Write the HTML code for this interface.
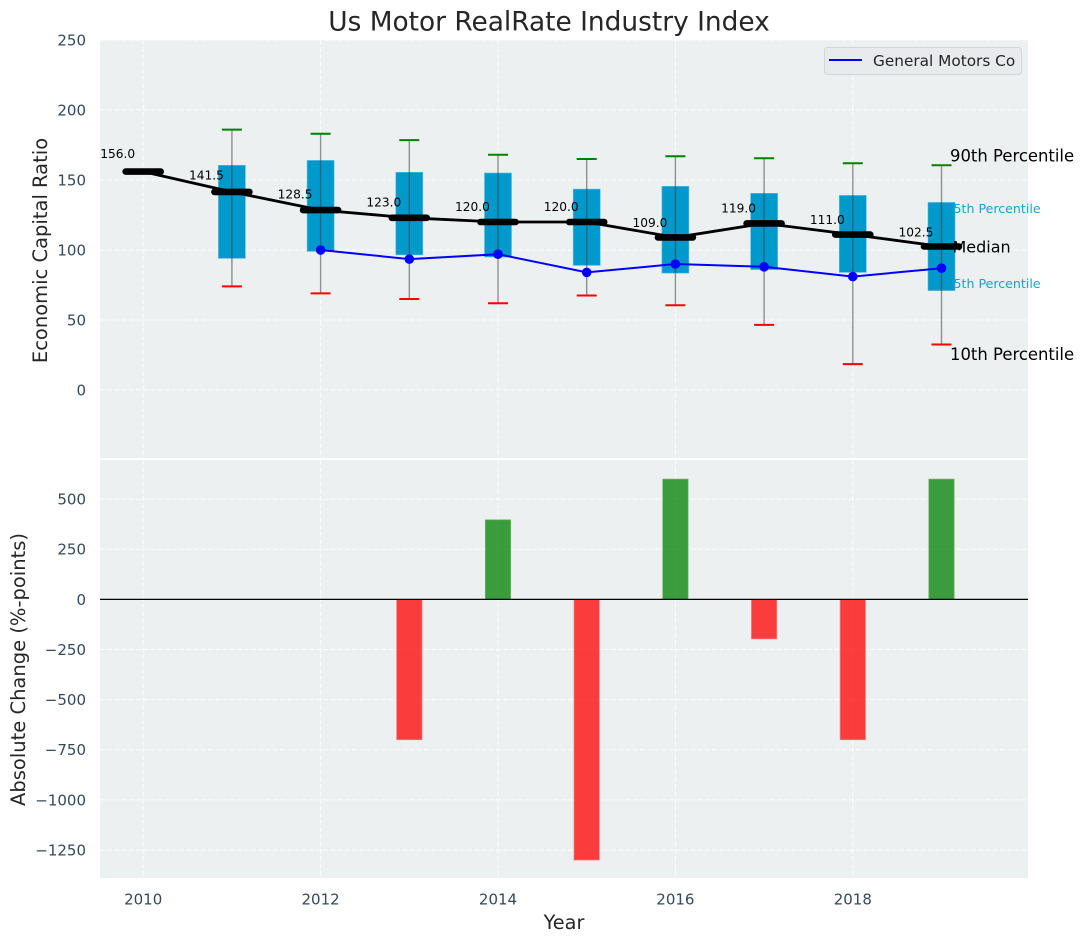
<!DOCTYPE html>
<html lang="en">
<head>
<meta charset="utf-8">
<title>Us Motor RealRate Industry Index</title>
<style>
html,body{margin:0;padding:0;background:#fff;width:1085px;height:942px;overflow:hidden}
svg{display:block;font-family:"DejaVu Sans","Liberation Sans",sans-serif}
</style>
</head>
<body>
<svg id="chart" width="1085" height="942" viewBox="0 0 1085 942" xmlns="http://www.w3.org/2000/svg"></svg>
<script>
const years = [2010, 2011, 2012, 2013, 2014, 2015, 2016, 2017, 2018, 2019];
const medians = [156, 141.5, 128.5, 123, 120, 120, 109, 119, 111, 102.5];
const boxYears = [2011, 2012, 2013, 2014, 2015, 2016, 2017, 2018, 2019];
const p90 = [186, 183, 178.5, 168, 165, 167, 165.5, 162, 160.5];
const p75 = [160.5, 164, 155.5, 155, 143.5, 145.5, 140.5, 139, 134];
const p25 = [94, 99, 96.5, 95, 89, 83.5, 86, 84, 71];
const p10 = [74, 69, 65, 62, 67.5, 60.5, 46.5, 18.5, 32.5];
const companyYears = [2012, 2013, 2014, 2015, 2016, 2017, 2018, 2019];
const companyValues = [100, 93.5, 97, 84, 90, 88, 81, 87];
const changeYears = [2013, 2014, 2015, 2016, 2017, 2018, 2019];
const changeValues = [-700, 397, -1300, 600, -197, -700, 600];
const topTicks = [0, 50, 100, 150, 200, 250];
const bottomTicks = [-1250, -1000, -750, -500, -250, 0, 250, 500];
const xTicks = [2010, 2012, 2014, 2016, 2018];

const svg = document.getElementById('chart');
const NS = 'http://www.w3.org/2000/svg';
const X0 = 100, X1 = 1028, TOP0 = 40, TOP1 = 458, BOT0 = 460, BOT1 = 878;
const YEAR_PX = 88.7;
const xScale = y => 143.2 + (y - 2010) * YEAR_PX;
const yTop = v => 390 - v * 1.4;
const yBot = v => 599.4 - v * 0.2005;
const fmt = v => String(v).replace('-', '\u2212');

function make(tag, attrs, text) {
  const el = document.createElementNS(NS, tag);
  for (const k in attrs) el.setAttribute(k, attrs[k]);
  if (text !== undefined) el.textContent = text;
  svg.appendChild(el);
  return el;
}
function line(x1, y1, x2, y2, stroke, width, extra) {
  return make('line', Object.assign({x1, y1, x2, y2, stroke, 'stroke-width': width}, extra || {}));
}
let el;

el = make('rect', {x: X0, y: TOP0, width: X1 - X0, height: TOP1 - TOP0, fill: '#ecf0f1'});


el = make('rect', {x: X0, y: BOT0, width: X1 - X0, height: BOT1 - BOT0, fill: '#ecf0f1'});



const dash = {'stroke-dasharray': '5 2.2', 'stroke-opacity': 0.85};
xTicks.forEach(t => {
  el = line(xScale(t), TOP0, xScale(t), TOP1, '#fff', 1, dash);
  
  
  el = line(xScale(t), BOT0, xScale(t), BOT1, '#fff', 1, dash);
  
  
  el = make('text', {x: xScale(t), y: 904.5, 'font-size': 15, fill: '#34495e', 'text-anchor': 'middle'}, String(t));
  
  
});
topTicks.forEach(t => {
  el = line(X0, yTop(t), X1, yTop(t), '#fff', 1, dash);
  
  
  el = make('text', {x: 86, y: yTop(t) + 5.4, 'font-size': 15, fill: '#34495e', 'text-anchor': 'end'}, fmt(t));
  
  
});
bottomTicks.forEach(t => {
  el = line(X0, yBot(t), X1, yBot(t), '#fff', 1, dash);
  
  
  el = make('text', {x: 86, y: yBot(t) + 5.4, 'font-size': 15, fill: '#34495e', 'text-anchor': 'end'}, fmt(t));
  
  
});

const lastX = xScale(2019);
el = make('text', {x: lastX + 8.5, y: yTop(167) + 5.5, 'font-size': 16.45, fill: '#000'}, '90th Percentile');


el = make('text', {x: lastX + 8.5, y: yTop(25.5) + 5.5, 'font-size': 16.45, fill: '#000'}, '10th Percentile');


el = make('text', {x: lastX + 4, y: yTop(129.5) + 4.5, 'font-size': 12.6, fill: '#0099cc', 'fill-opacity': 0.9}, '75th Percentile');


el = make('text', {x: lastX + 4, y: yTop(76) + 4.5, 'font-size': 12.6, fill: '#0099cc', 'fill-opacity': 0.9}, '25th Percentile');



const boxW = 27, capW = 10;
boxYears.forEach((yr, i) => {
  const cx = xScale(yr);
  el = make('rect', {x: cx - boxW / 2, y: yTop(p75[i]), width: boxW, height: yTop(p25[i]) - yTop(p75[i]), fill: '#0099cc', stroke: '#5fbcdc', 'stroke-width': 0.6});
  
  
  el = line(cx, yTop(p90[i]), cx, yTop(p10[i]), '#3f3f3f', 1.4, {'stroke-opacity': 0.55});
  
  
  el = line(cx - capW, yTop(p90[i]), cx + capW, yTop(p90[i]), '#008000', 2);
  
  
  el = line(cx - capW, yTop(p10[i]), cx + capW, yTop(p10[i]), '#ff0000', 2);
  
  
});

el = make('polyline', {points: companyYears.map((y, i) => xScale(y) + ',' + yTop(companyValues[i])).join(' '), fill: 'none', stroke: '#0000ff', 'stroke-width': 2});


companyYears.forEach((y, i) => {
  el = make('circle', {cx: xScale(y), cy: yTop(companyValues[i]), r: 4.8, fill: '#0000ff'});
  
  
});

el = make('polyline', {points: years.map((y, i) => xScale(y) + ',' + yTop(medians[i])).join(' '), fill: 'none', stroke: '#000', 'stroke-width': 2.8});


years.forEach((y, i) => {
  const cx = xScale(y), cy = yTop(medians[i]);
  el = line(cx - 17.5, cy, cx + 17.5, cy, '#000', 6.6, {'stroke-linecap': 'round'});
  
  
  el = make('text', {x: cx - 25.5, y: yTop(medians[i] * 1.045 + 5.7) + 4.4, 'font-size': 12.2, fill: '#000', 'text-anchor': 'middle'}, medians[i].toFixed(1));
  
  
});
el = make('text', {x: lastX + 11, y: yTop(102.5) + 6, 'font-size': 16, fill: '#000'}, 'Median');



changeYears.forEach((y, i) => {
  const v = changeValues[i], a = yBot(Math.max(v, 0)), b = yBot(Math.min(v, 0));
  el = make('rect', {x: xScale(y) - 12.7, y: a, width: 25.4, height: b - a, fill: v >= 0 ? '#008000' : '#ff0000', 'fill-opacity': 0.75, stroke: v >= 0 ? '#6cb76c' : '#ff7f7f', 'stroke-width': 0.7});
  
  
});
el = line(X0, yBot(0), X1, yBot(0), '#000', 1.2);



el = make('rect', {x: 824.5, y: 47.5, width: 197, height: 27, rx: 3, fill: '#e9eaee', stroke: '#d3d5d8', 'stroke-width': 1});


el = line(829, 60, 862, 60, '#0000ff', 2);


el = make('text', {x: 873, y: 66, 'font-size': 15.3, fill: '#262626'}, 'General Motors Co');



el = make('text', {x: 549, y: 30.5, 'font-size': 26.4, fill: '#262626', 'text-anchor': 'middle'}, 'Us Motor RealRate Industry Index');


el = make('text', {x: 564, y: 929, 'font-size': 19.3, fill: '#262626', 'text-anchor': 'middle'}, 'Year');


el = make('text', {x: 0, y: 0, 'font-size': 19.5, fill: '#262626', 'text-anchor': 'middle', transform: 'translate(47,250.5) rotate(-90)'}, 'Economic Capital Ratio');


el = make('text', {x: 0, y: 0, 'font-size': 19.5, fill: '#262626', 'text-anchor': 'middle', transform: 'translate(25,669.5) rotate(-90)'}, 'Absolute Change (%-points)');


</script>
</body>
</html>
